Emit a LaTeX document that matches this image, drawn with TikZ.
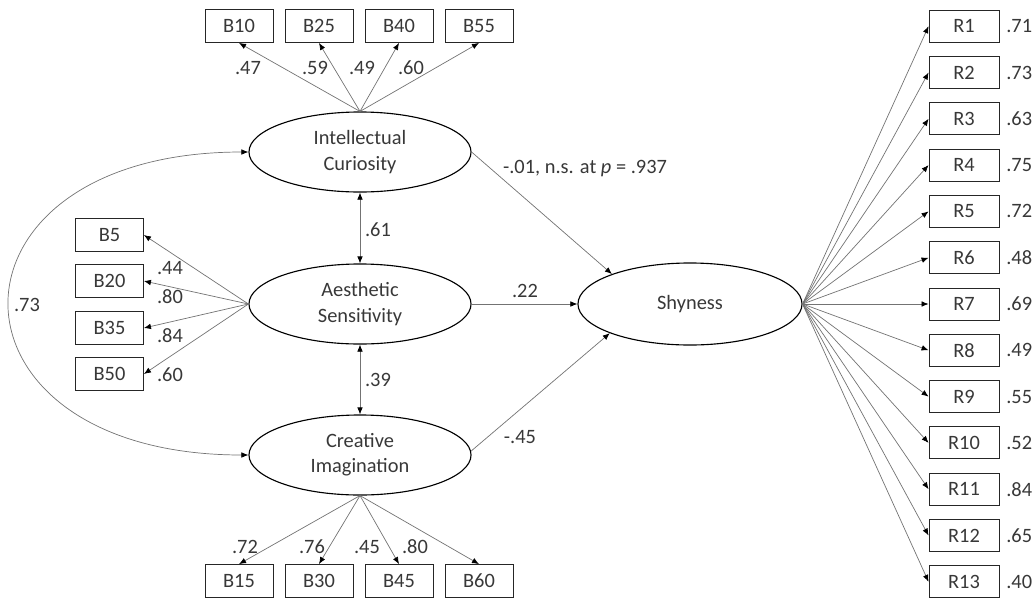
\documentclass[tikz,border=0pt]{standalone}
\usepackage{fontspec}
\setmainfont{Carlito}
\usetikzlibrary{arrows.meta,shapes.geometric}
\begin{document}
\begin{tikzpicture}[x=0.025cm,y=-0.025cm,
  every node/.style={font=\fontsize{14.5}{18}\selectfont, text=black!78},
  obs/.style={draw=black!85, line width=0.6pt, minimum width=1.7cm, minimum height=0.825cm, inner sep=0pt},
  robs/.style={obs, minimum width=1.75cm, minimum height=0.8cm},
  lat/.style={draw=black, line width=0.8pt, ellipse, minimum width=5.55cm, minimum height=2cm, inner sep=0pt, align=center},
  tip/.tip={Latex[length=5pt,width=4pt,color=black]},
  arr/.style={draw=black!55, line width=0.5pt, -tip},
  darr/.style={draw=black!55, line width=0.5pt, tip-tip},
  lbl/.style={inner sep=0pt}
]
\useasboundingbox (0,0) rectangle (1035,600);

% latent variables
\node[lat] (ic) at (360,152) {Intellectual\\Curiosity};
\node[lat] (as) at (360,304) {Aesthetic\\Sensitivity};
\node[lat] (ci) at (360,455) {Creative\\Imagination};
\node[lat, minimum width=5.6cm, minimum height=2.05cm] (sh) at (690,304) {Shyness};

% top indicators
\node[obs] (b10) at (239,26) {B10};
\node[obs] (b25) at (319,26) {B25};
\node[obs] (b40) at (399,26) {B40};
\node[obs] (b55) at (479,26) {B55};
\foreach \b in {b10,b25,b40,b55} \draw[arr] (ic.north) -- (\b.south);
\node[lbl] at (248,68) {.47};
\node[lbl] at (315,68) {.59};
\node[lbl] at (362,68) {.49};
\node[lbl] at (411,68) {.60};

% left indicators
\node[obs] (b5) at (109.5,235) {B5};
\node[obs] (b20) at (109.5,281) {B20};
\node[obs] (b35) at (109.5,328) {B35};
\node[obs] (b50) at (109.5,374) {B50};
\foreach \b in {b5,b20,b35,b50} \draw[arr] (as.west) -- (\b.east);
\node[lbl] at (170,268) {.44};
\node[lbl] at (170,297) {.80};
\node[lbl] at (170,336) {.84};
\node[lbl] at (170,375) {.60};

% bottom indicators
\node[obs] (b15) at (239,581) {B15};
\node[obs] (b30) at (319,581) {B30};
\node[obs] (b45) at (399,581) {B45};
\node[obs] (b60) at (479,581) {B60};
\foreach \b in {b15,b30,b45,b60} \draw[arr] (ci.south) -- (\b.north);
\node[lbl] at (245,547) {.72};
\node[lbl] at (312,547) {.76};
\node[lbl] at (367,547) {.45};
\node[lbl] at (415,547) {.80};

% correlations among latents
\draw[darr] (ic.west) .. controls (-70,152) and (-70,455) .. (ci.west);
\draw[darr] (ic.south) -- (as.north);
\node[lbl] at (378,230) {.61};
\draw[darr] (as.south) -- (ci.north);
\node[lbl] at (378,380) {.39};
\node[lbl] at (27,305) {.73};

% structural paths
\draw[arr] (ic.east) -- (sh.159);
\node[lbl] at (585,169) {-.01, n.s. at \textit{p} = .937};
\draw[arr] (as.east) -- (sh.west);
\node[lbl] at (525,291) {.22};
\draw[arr] (ci.2) -- (sh.200);
\node[lbl] at (520,437) {-.45};

% shyness indicators
\foreach \i/\v in {1/.71,2/.73,3/.63,4/.75,5/.72,6/.48,7/.69,8/.49,9/.55,10/.52,11/.84,12/.65,13/.40} {
  \node[robs] (r\i) at (964,{304+46.3*(\i-7)}) {R\i};
  \draw[arr] (sh.east) -- (r\i.west);
  \node[lbl, anchor=west] at (1006,{304+46.3*(\i-7)}) {\v};
}
\end{tikzpicture}
\end{document}
